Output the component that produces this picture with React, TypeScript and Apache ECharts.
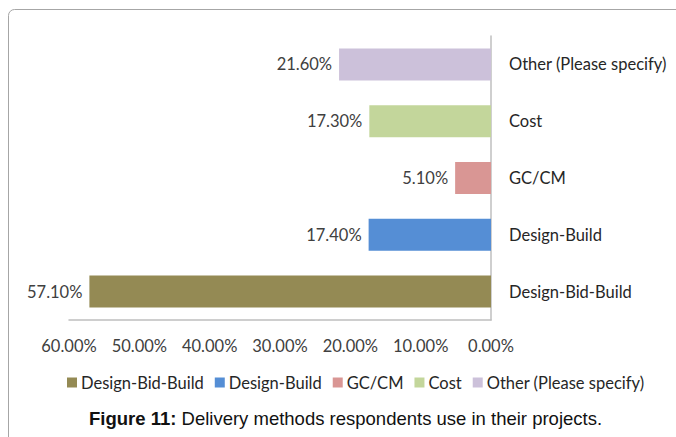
import React, { useEffect, useRef } from "react";
import * as echarts from "echarts";

const categories = ["Design-Bid-Build", "Design-Build", "GC/CM", "Cost", "Other (Please specify)"];
const values = [57.1, 17.4, 5.1, 17.3, 21.6];
const colors = ["#948A54", "#558ED5", "#D99694", "#C3D69B", "#CCC1DA"];
const xTicks = [0, 10, 20, 30, 40, 50, 60];

const FONT = "Lato";
const FS = 16.5;

export default function App() {
  const ref = useRef<HTMLDivElement>(null);
  useEffect(() => {
    if (!ref.current) return;
    const chart = echarts.init(ref.current, undefined, { renderer: "svg" });
    const series = categories.map((name, i) => ({
      name,
      type: "bar",
      stack: "all",
      barWidth: 32,
      itemStyle: { color: colors[i] },
      data: categories.map((_, j) => (j === i ? values[i] : "-")),
      label: {
        show: true,
        position: "left",
        distance: 7,
        color: "#404040",
        fontFamily: FONT,
        fontSize: FS,
        formatter: (p: any) => `${Number(p.value).toFixed(2)}%`,
      },
    }));
    chart.setOption({
      animation: false,
      backgroundColor: "#ffffff",
      grid: { left: 69, right: 185, top: 36, bottom: 117, containLabel: false },
      xAxis: {
        type: "value",
        inverse: true,
        min: xTicks[0],
        max: xTicks[xTicks.length - 1],
        interval: 10,
        splitLine: { show: false },
        axisTick: { show: false },
        axisLine: { show: true, lineStyle: { color: "#BFBFBF", width: 1.5 } },
        axisLabel: {
          color: "#404040",
          fontFamily: FONT,
          fontSize: FS,
          margin: 17,
          formatter: (v: number) => `${v.toFixed(2)}%`,
        },
      },
      yAxis: {
        type: "category",
        position: "right",
        data: categories,
        axisTick: { show: false },
        axisLine: { show: true, lineStyle: { color: "#BFBFBF", width: 1.5 } },
        axisLabel: {
          color: "#262626",
          fontFamily: FONT,
          fontSize: FS,
          margin: 18,
          align: "left",
        },
      },
      legend: {
        data: categories,
        left: 62,
        top: 369,
        icon: "rect",
        itemWidth: 10,
        itemHeight: 10,
        itemGap: 11,
        textStyle: { color: "#262626", fontFamily: FONT, fontSize: FS, padding: [0, 0, 0, -1] },
      },
      graphic: [
        {
          type: "rect",
          shape: { x: 8.5, y: 9.5, width: 720, height: 500, r: 6 },
          style: { fill: "none", stroke: "#A6A6A6", lineWidth: 1 },
          silent: true,
        },
        {
          type: "text",
          left: 89,
          top: 409,
          style: {
            text: "{b|Figure 11:} Delivery methods respondents use in their projects.",
            fontFamily: "Liberation Sans",
            fontSize: 18.5,
            fill: "#111",
            rich: {
              b: { fontFamily: "Liberation Sans", fontSize: 18.5, fontWeight: "bold", fill: "#111" },
            },
          },
        },
      ],
      series,
    });
    return () => chart.dispose();
  }, []);
  return (
    <div
      ref={ref}
      style={{ position: "absolute", left: 0, top: 0, width: 676, height: 437 }}
    />
  );
}
